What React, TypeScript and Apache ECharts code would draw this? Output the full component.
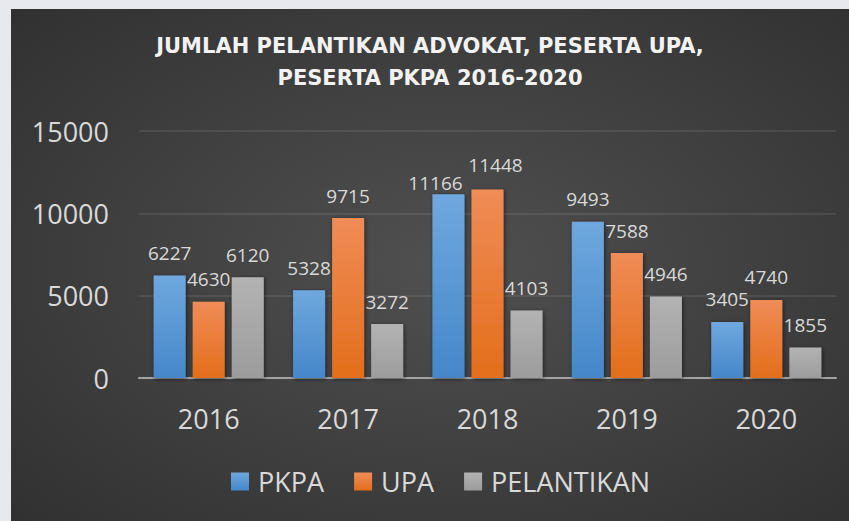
import React, { useEffect, useRef } from "react";
import * as echarts from "echarts";

const TITLE_LINE_1 = "JUMLAH PELANTIKAN ADVOKAT, PESERTA UPA,";
const TITLE_LINE_2 = "PESERTA PKPA 2016-2020";
const years = ["2016", "2017", "2018", "2019", "2020"];
const pkpa = [6227, 5328, 11166, 9493, 3405];
const upa = [4630, 9715, 11448, 7588, 4740];
const pelantikan = [6120, 3272, 4103, 4946, 1855];
const yTicks = { min: 0, max: 15000, interval: 5000 };

// label nudges (Excel moved two overlapping labels)
const labelNudges: Record<string, number[]> = {
  "PKPA-2": [-13, 11],
  "UPA-2": [8, -2],
};

const FONT = "'Open Sans', 'Noto Sans', sans-serif";
const TEXT = "#d9d9d9";

function grad(top: string, bottom: string) {
  return new echarts.graphic.LinearGradient(0, 0, 0, 1, [
    { offset: 0, color: top },
    { offset: 1, color: bottom },
  ]);
}

function buildSeries(name: string, values: number[], top: string, bottom: string) {
  return {
    name,
    type: "bar",
    barWidth: 32,
    barGap: "22%",
    data: values.map((v, i) => {
      const nudge = labelNudges[`${name}-${i}`];
      return nudge ? { value: v, label: { offset: nudge } } : v;
    }),
    itemStyle: {
      color: grad(top, bottom),
      shadowBlur: 4,
      shadowColor: "rgba(0,0,0,0.55)",
      shadowOffsetX: 1,
      shadowOffsetY: 1,
    },
    label: {
      show: true,
      position: "top",
      distance: 13,
      color: TEXT,
      fontFamily: FONT,
      fontSize: 19,
    },
  };
}

export default function App() {
  const ref = useRef<HTMLDivElement>(null);
  useEffect(() => {
    if (!ref.current) return;
    const chart = echarts.init(ref.current, null, { renderer: "svg" });
    chart.setOption({
      animation: false,
      backgroundColor: {
        type: "radial",
        x: 0.52,
        y: 0.5,
        r: 0.95,
        colorStops: [
          { offset: 0, color: "#505050" },
          { offset: 1, color: "#272727" },
        ],
      },
      title: {
        text: TITLE_LINE_1 + "\n" + TITLE_LINE_2,
        left: "center",
        top: 21,
        padding: [0, 0, 0, 14],
        textStyle: {
          color: "#f2f2f2",
          fontFamily: "'DejaVu Sans', sans-serif",
          fontWeight: "bold",
          fontSize: 21,
          lineHeight: 32,
        },
      },
      legend: {
        data: ["PKPA", "UPA", "PELANTIKAN"],
        left: 215,
        top: 454,
        itemWidth: 18,
        itemHeight: 18,
        itemGap: 30,
        icon: "rect",
        textStyle: {
          color: TEXT,
          fontFamily: FONT,
          fontSize: 27,
          padding: [0, 0, 0, 4],
        },
      },
      grid: { left: 128, right: 13, top: 122, bottom: 143 },
      xAxis: {
        type: "category",
        data: years,
        axisTick: { show: false },
        axisLine: { lineStyle: { color: "#a3a3a3", width: 2 } },
        axisLabel: { color: TEXT, fontFamily: FONT, fontSize: 27, margin: 27 },
      },
      yAxis: {
        type: "value",
        min: yTicks.min,
        max: yTicks.max,
        interval: yTicks.interval,
        axisLine: { show: false },
        axisTick: { show: false },
        axisLabel: {
          color: TEXT,
          fontFamily: FONT,
          fontSize: 27,
          margin: 30,
          formatter: (v: number) => String(v),
        },
        splitLine: { lineStyle: { color: "rgba(255,255,255,0.11)", width: 1.5 } },
      },
      series: [
        buildSeries("PKPA", pkpa, "#6fa8de", "#4587ca"),
        buildSeries("UPA", upa, "#f08c57", "#e36e1b"),
        buildSeries("PELANTIKAN", pelantikan, "#b3b3b3", "#9c9c9c"),
      ],
    });
    return () => chart.dispose();
  }, []);
  return (
    <div
      style={{
        position: "fixed",
        left: 0,
        top: 0,
        width: 849,
        height: 521,
        background: "#e7e9ef",
        overflow: "hidden",
      }}
    >
      <div
        ref={ref}
        style={{ position: "absolute", left: 11, top: 9, width: 838, height: 512 }}
      />
    </div>
  );
}
